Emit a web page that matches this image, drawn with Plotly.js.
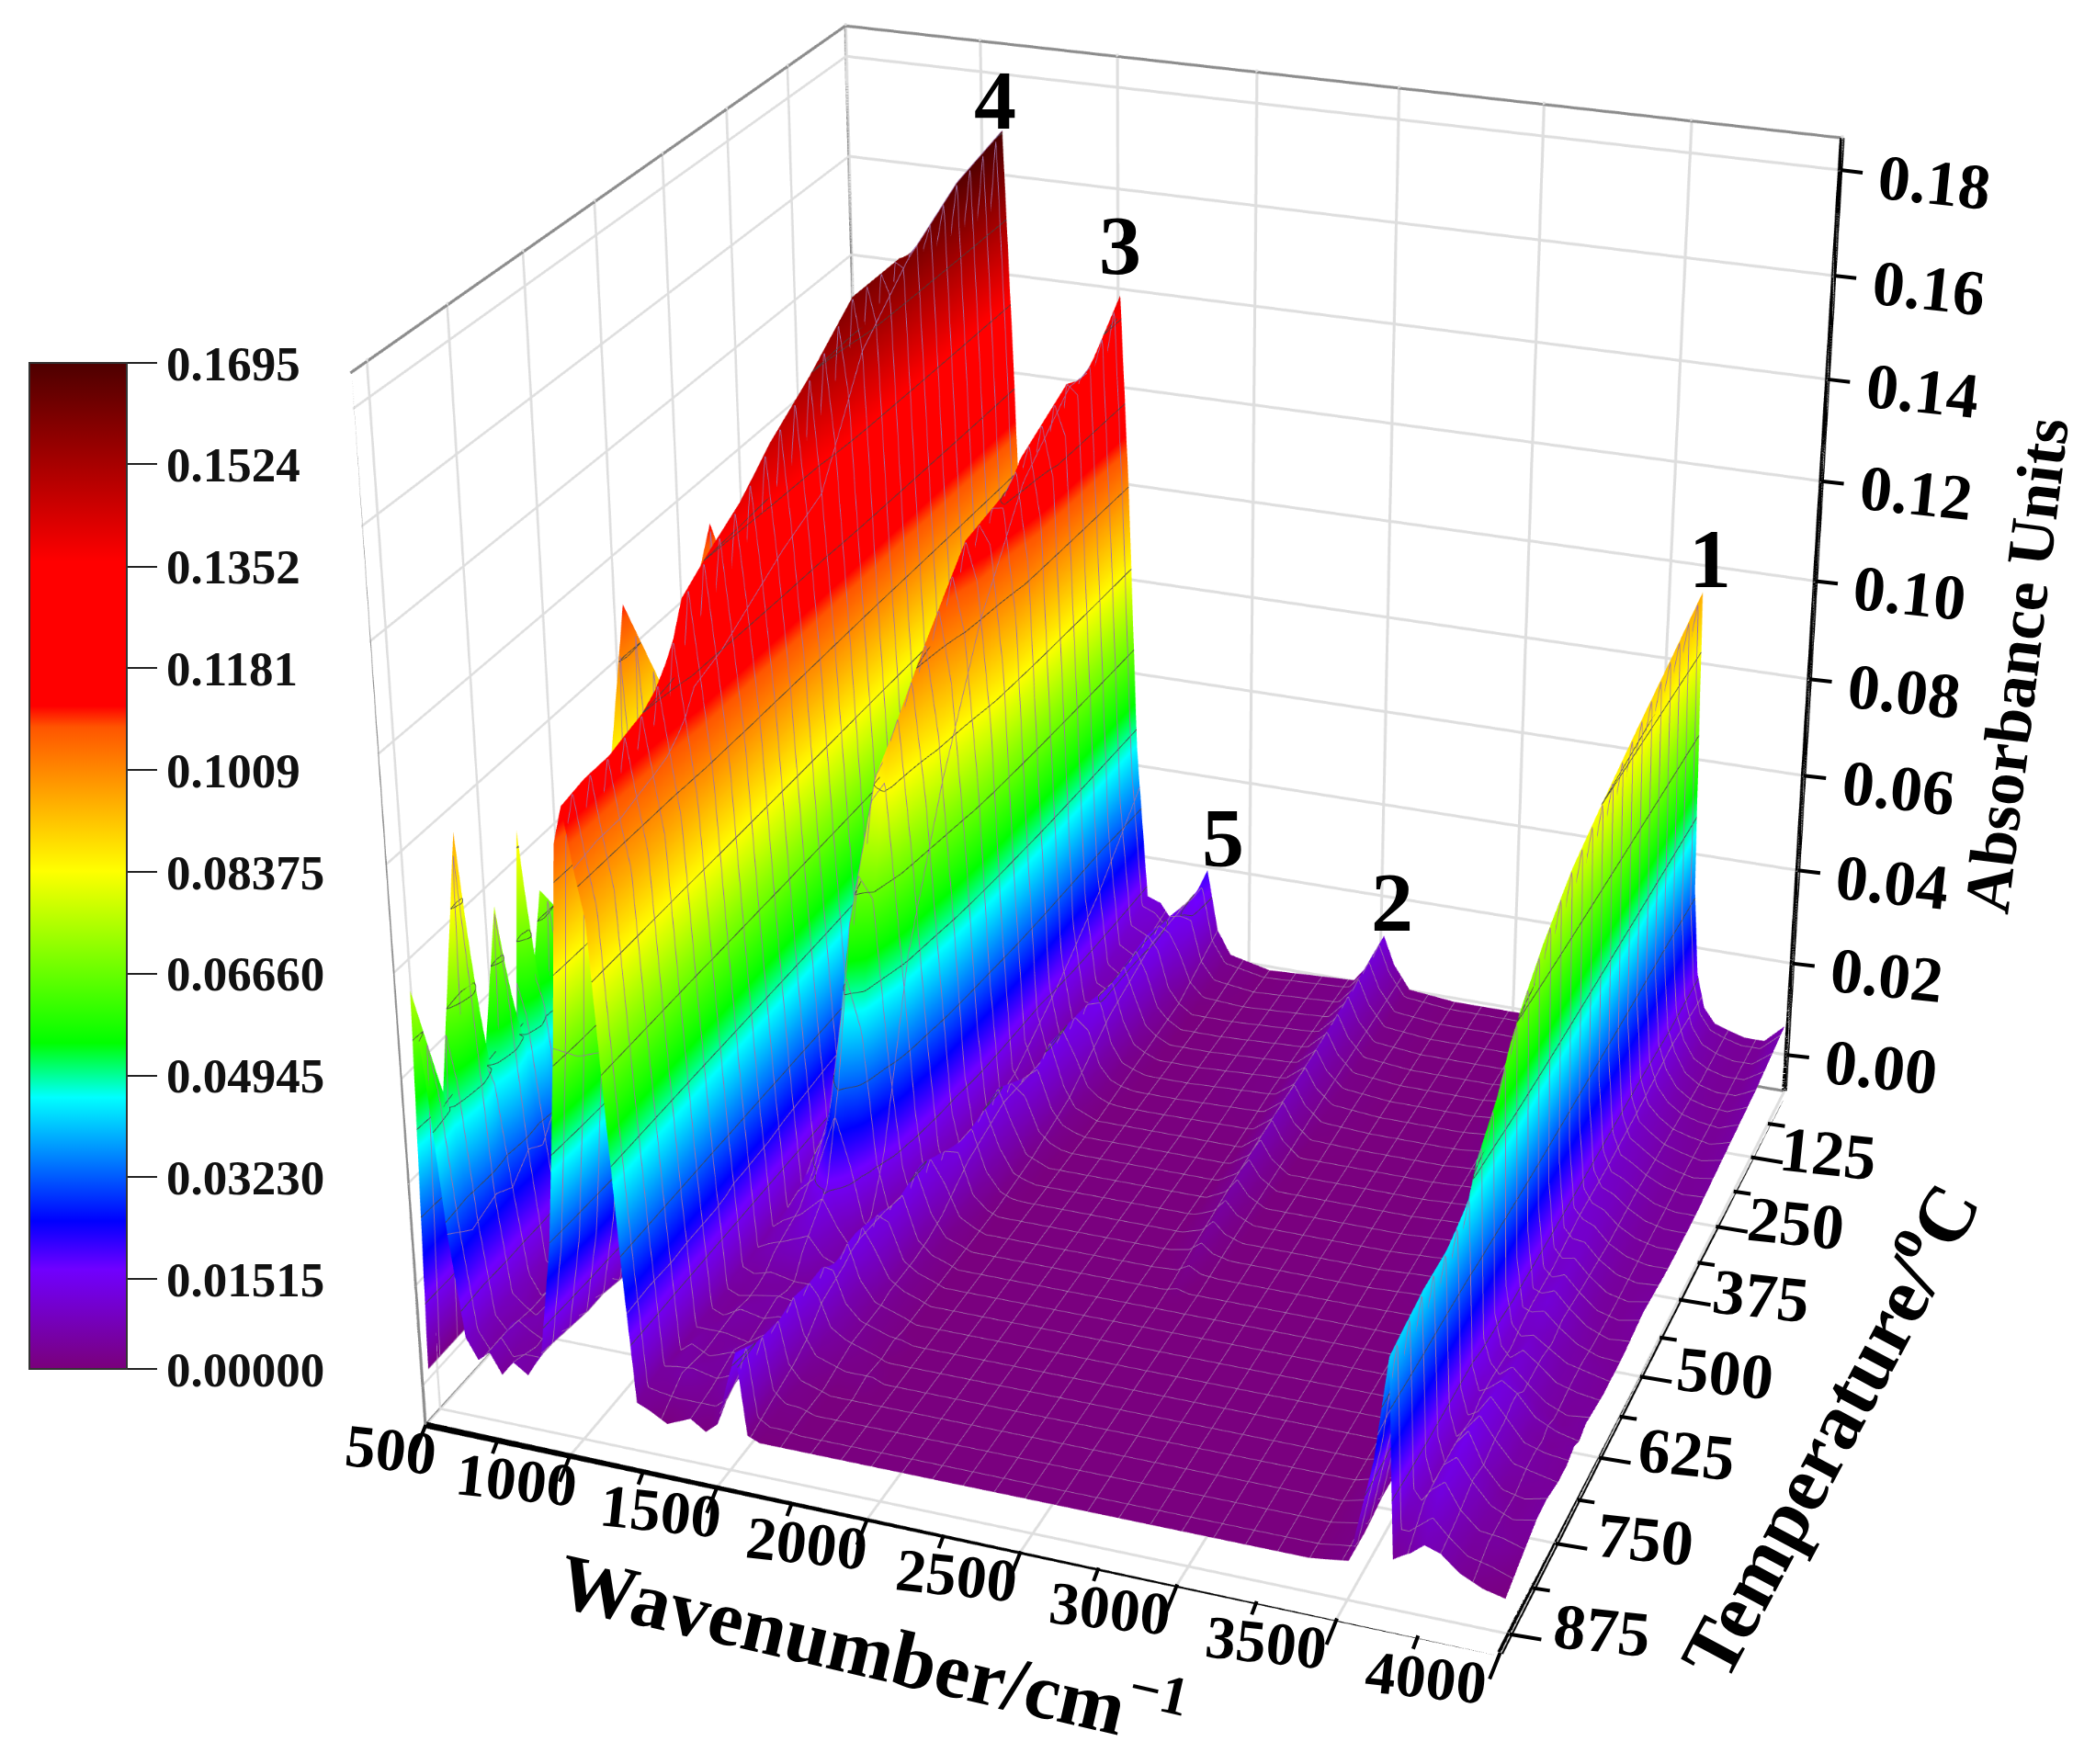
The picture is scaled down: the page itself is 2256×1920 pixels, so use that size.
<!DOCTYPE html>
<html>
<head>
<meta charset="utf-8">
<script src="https://cdn.plot.ly/plotly-3.0.1.min.js"></script>
<style>
html,body{margin:0;padding:0;background:#fff}
/* plot is bigger than the page so the 3d view gets a narrow field of view */
#page{position:relative;width:2256px;height:1920px;overflow:hidden}
#chart{position:absolute;left:-928px;top:-1518px;width:4460px;height:4460px}
</style>
</head>
<body>
<div id="page"><div id="chart"></div></div>
<script>
// wavenumber columns, cm-1
const wavenumbers = [500,530,560,600,640,680,720,760,800,850,
  900,950,1000,1040,1070,1100,1130,1160,1190,1220,
  1260,1320,1400,1450,1490,1530,1560,1590,1630,1680,
  1730,1780,1820,1860,1900,1950,
  2100,2420,2490,2530,2570,2630,2800,3100,
  3400,3520,3590,3630,3655,3680,3710,3750,3800,3860,3930,4000];
// temperature rows, deg C
const temperatures = [890,850,807,780,749,725,705,690,672,620,590,560,500,420,330,230,120,15];
// absorbance, in 0.001 AU, one row per temperature
const absorbanceMilli = [
  [2,76,60,30,10,6,8,4,7,5, 10,32,70,108,115,104,95,62,30,4, 3,1,3,1,3,12,18,2,1,1,1,1,1,1,1,1, 1,1,1,1,1,1,1,1, 1,2,22,42,4,5,6,8,7,4,2,1],
  [2,52,48,26,8,5,9,6,5,7, 9,28,64,106,116,105,95,62,30,5, 5,6,4,6,8,9,15,4,2,2,1,1,1,1,1,1, 1,1,1,1,1,1,1,1, 1,2,23,43,10,9,11,13,8,5,5,3],
  [2,97,70,28,9,7,5,8,6,6, 8,25,60,105,116,105,96,62,30,4, 6,4,6,5,7,11,14,6,3,2,1,1,1,1,1,1, 1,1,1,1,1,1,1,1, 1,3,24,44,13,8,12,14,10,6,4,5],
  [2,50,46,26,9,5,7,5,8,6, 8,24,56,106,117,106,96,62,30,5, 5,5,4,6,7,11,15,8,4,3,2,2,2,1,1,1, 1,1,1,1,1,1,1,1, 1,3,25,44,13,8,12,15,9,5,4,5],
  [3,77,62,30,8,6,6,5,6,7, 7,23,56,107,118,107,96,62,30,5, 4,6,5,6,6,10,14,12,6,4,3,2,1,1,1,1, 1,1,1,1,1,1,1,1, 1,3,26,44,14,9,11,14,10,6,5,4],
  [3,50,48,28,8,7,5,6,5,6, 7,22,56,108,120,108,96,62,30,5, 4,5,6,5,7,9,14,13,7,4,3,2,2,1,1,1, 1,1,1,1,1,1,1,1, 1,3,28,45,14,9,10,14,10,6,5,4],
  [3,87,66,32,9,5,6,5,5,6, 7,21,56,109,123,110,97,62,30,6, 5,5,5,6,6,8,12,14,7,4,3,2,1,1,1,1, 1,1,1,1,1,1,1,1, 1,4,30,46,15,10,11,13,11,6,4,5],
  [3,58,52,30,9,5,6,4,6,6, 7,20,56,110,126,112,97,63,31,6, 5,6,5,5,6,7,11,15,8,4,3,2,1,1,1,1, 1,1,1,1,1,1,1,1, 1,4,32,47,15,10,11,13,11,7,5,4],
  [3,72,56,32,9,6,5,6,5,6, 6,20,58,114,132,116,98,63,31,6, 7,8,9,6,6,6,9,15,10,5,3,2,1,1,1,1, 1,1,1,1,1,1,1,1, 1,5,38,52,16,12,10,12,9,6,4,5],
  [3,60,58,30,10,5,5,5,6,6, 6,20,60,118,136,118,99,64,31,7, 9,11,16,10,6,5,7,13,13,5,3,2,1,1,1,1, 1,1,1,1,1,1,1,1, 1,5,42,58,18,11,9,11,9,6,5,4],
  [3,62,60,32,9,5,6,4,5,6, 6,20,62,122,138,120,100,64,32,7, 12,16,34,22,8,5,6,11,15,6,3,2,1,1,1,1, 1,1,1,1,1,1,1,1, 1,6,48,64,20,12,10,10,8,6,5,4],
  [3,64,62,34,9,5,5,5,5,6, 6,20,64,122,140,122,100,65,32,8, 15,24,62,52,20,7,5,8,16,8,3,2,1,1,1,1, 1,1,1,2,1,1,1,1, 1,6,52,68,22,11,11,12,9,6,4,4],
  [3,111,72,36,10,5,5,5,5,6, 6,22,68,128,146,126,101,65,33,8, 22,45,85,92,60,22,6,5,12,14,5,2,1,1,1,1, 1,1,2,4,2,1,1,1, 2,7,58,74,25,12,10,11,8,5,4,5],
  [3,84,76,38,10,5,5,5,5,6, 6,24,72,132,152,130,102,66,33,9, 28,60,92,104,86,50,18,6,7,16,9,3,2,1,1,1, 1,1,3,6,3,1,1,1, 2,8,62,80,27,13,11,10,7,5,4,4],
  [3,112,74,38,10,5,5,5,5,6, 6,24,76,140,160,150,104,66,33,9, 32,70,100,116,108,80,38,9,5,9,16,7,3,2,1,1, 1,1,4,8,4,1,1,1, 2,9,66,84,29,14,10,9,7,5,4,4],
  [3,72,76,38,10,5,5,5,5,6, 6,26,80,140,160,160,110,67,34,10, 36,76,106,118,124,106,60,18,6,6,14,16,7,3,2,1, 1,2,5,9,5,2,1,1, 3,10,70,88,31,15,10,8,6,5,4,5],
  [3,76,72,38,10,5,5,5,5,6, 6,26,84,135,155,167,118,67,34,10, 40,80,108,112,130,128,80,30,9,7,9,17,14,6,3,1, 1,2,6,11,6,2,1,1, 3,11,76,92,32,16,11,7,5,4,4,6],
  [3,74,78,40,10,5,5,5,5,6, 6,28,86,130,150,170,125,70,35,12, 42,84,104,108,124,140,100,45,13,12,8,13,16,21,8,3, 1,2,7,13,7,2,1,1, 3,12,80,96,34,16,9,6,5,4,4,8]
];
const xTicks = [500,1000,1500,2000,2500,3000,3500,4000];
const xMinorTicks = [750,1250,1750,2250,2750,3250,3750];
const yTicks = [125,250,375,500,625,750,875];
const yMinorTicks = [62.5,187.5,312.5,437.5,562.5,687.5,812.5];
const zTicks = [0,0.02,0.04,0.06,0.08,0.10,0.12,0.14,0.16,0.18];
const zTickText = ['0.00','0.02','0.04','0.06','0.08','0.10','0.12','0.14','0.16','0.18'];
const barTicks = [0,0.01515,0.0323,0.04945,0.0666,0.08375,0.1009,0.1181,0.1352,0.1524,0.1695];
const barTickText = ['0.00000','0.01515','0.03230','0.04945','0.06660','0.08375','0.1009','0.1181','0.1352','0.1524','0.1695'];
const peakLabels = ['1','2','3','4','5'];
const peakX = [3655,2560,1530,1075,1920];
const peakZ = [0.096,0.013,0.143,0.169,0.021];
const xRange = [499,4000];
const yRange = [900,0];
const zRange = [-0.008,0.1865];
const zTop = 0.186;

const absorbance = absorbanceMilli.map(row => row.map(v => v / 1000));
const serif = 'Liberation Serif, Times New Roman, serif';
const [x0, x1] = xRange, [yFront, yBack] = yRange, [z0] = zRange;

const surface = {
    type: 'surface',
    x: wavenumbers,
    y: temperatures,
    z: absorbance,
    cmin: 0,
    cmax: 0.1695,
    colorscale: [
        [0, '#7a007a'], [0.099, '#7000ff'], [0.147, '#0000ff'], [0.27, '#00ffff'],
        [0.324, '#00ff00'], [0.495, '#ffff00'], [0.638, '#ff5500'], [0.659, '#ff0000'],
        [0.802, '#ff0000'], [0.898, '#a80000'], [1, '#4d0000']
    ],
    lighting: {ambient: 1, diffuse: 0, specular: 0, roughness: 1, fresnel: 0},
    hoverinfo: 'skip',
    contours: {
        x: {show: true, start: 500, end: 4000, size: 100, color: '#a070a8', width: 1.5},
        y: {show: true, start: 30, end: 880, size: 30, color: '#a070a8', width: 1.5},
        z: {show: true, start: 0.01515, end: 0.1695, size: 0.01715, color: '#444444', width: 5}
    },
    colorbar: {
        x: 960 / 4460, xanchor: 'left', xpad: 0,
        y: (2942 - 1490) / 4460, yanchor: 'bottom', ypad: 0,
        thickness: 106, thicknessmode: 'pixels',
        len: 1095, lenmode: 'pixels',
        tickmode: 'array', tickvals: barTicks, ticktext: barTickText,
        ticks: 'outside', ticklen: 32, tickwidth: 2, tickcolor: '#222',
        tickfont: {family: serif, size: 53, color: '#111', weight: 700},
        outlinecolor: '#333', outlinewidth: 2
    }
};

// box edges, gray ones behind, black ones carry the ticks
function edges(pairs, color, width) {
    const xs = [], ys = [], zs = [];
    pairs.forEach(p => {
        xs.push(p[0], p[3], null);
        ys.push(p[1], p[4], null);
        zs.push(p[2], p[5], null);
    });
    return {type: 'scatter3d', mode: 'lines', x: xs, y: ys, z: zs,
        line: {color: color, width: width}, hoverinfo: 'skip', showlegend: false};
}
const grayEdges = edges([
    [x0, yFront, z0, x0, yFront, zTop],
    [x0, yFront, zTop, x0, yBack, zTop],
    [x0, yBack, zTop, x1, yBack, zTop],
    [x0, yBack, z0, x0, yBack, zTop],
    [x0, yFront, z0, x0, yBack, z0],
    [x0, yBack, z0, x1, yBack, z0]
], '#8c8c8c', 4);
const blackEdges = edges([
    [x0, yFront, z0, x1, yFront, z0],
    [x1, yFront, z0, x1, yBack, z0]
], '#000', 9);
const zLine = edges([[x1, yBack, z0, x1, yBack, zTop]], '#000', 7);

function axisStyle(range, tickvals) {
    return {
        range: range, tickmode: 'array', tickvals: tickvals,
        showticklabels: false, ticks: '', title: {text: ''},
        showline: false, showgrid: true, gridcolor: '#dedede', gridwidth: 4,
        zeroline: false, showbackground: false, showspikes: false
    };
}

// tick marks and tick labels are annotations since plotly keeps the z axis on the left
function tickMark(x, y, z, ax, ay) {
    return {x: x, y: y, z: z, text: '', showarrow: true, arrowhead: 0, arrowwidth: 4, arrowcolor: '#000', ax: ax, ay: ay};
}
function label(x, y, z, text, size, anchor, xshift, yshift, angle) {
    return {x: x, y: y, z: z, text: text, showarrow: false, xanchor: anchor, yanchor: 'middle',
        xshift: xshift, yshift: yshift, textangle: angle,
        font: {family: serif, size: size, color: '#000', weight: 700}};
}
const annotations = [];
xTicks.forEach(v => {
    annotations.push(tickMark(v, yFront, z0, -12, 30));
    annotations.push(label(v, yFront, z0, String(v), 66, 'right', -9 + (4000 - v) / 3500 * 26, -26, 6));
});
xMinorTicks.forEach(v => annotations.push(tickMark(v, yFront, z0, -6, 16)));
yTicks.forEach(v => {
    annotations.push(tickMark(x1, v, z0, 36, 6));
    annotations.push(label(x1, v, z0, String(v), 70, 'left', 42 - (875 - v) / 750 * 16, 4, 6));
});
yMinorTicks.forEach(v => annotations.push(tickMark(x1, v, z0, 20, 3)));
zTicks.forEach((v, i) => {
    annotations.push(tickMark(x1, yBack, v, 26, 3));
    annotations.push(label(x1, yBack, v, zTickText[i], 70, 'left', 36, -13, 6));
});
peakLabels.forEach((t, i) => annotations.push(label(peakX[i], 15, peakZ[i], t, 92, 'center', 0, 38, 0)));
annotations.push(label(2250, yFront, z0, 'Wavenumber/cm<sup>\u22121</sup>', 86, 'center', -78, -120, 13));
annotations.push(label(x1, 450, z0, 'Temperature/<sup>o</sup>C', 86, 'center', 184, -90, -62));
annotations.push(label(x1, yBack, 0.09, 'Absorbance Units', 71, 'center', 222, -38, -83));

const layout = {
    width: 4460,
    height: 4460,
    margin: {l: 0, r: 0, t: 0, b: 0},
    paper_bgcolor: '#fff',
    showlegend: false,
    scene: {
        domain: {x: [0, 1], y: [0, 1]},
        aspectmode: 'manual',
        aspectratio: {x: 1, y: 1.009, z: 1.009},
        camera: {
            eye: {x: 1.399, y: -3.8, z: 1.951},
            center: {x: 0.057, y: -0.023, z: 0.134},
            up: {x: -0.1422, y: 0.3876, z: 0.9108},
            projection: {type: 'perspective'}
        },
        xaxis: axisStyle(xRange, xTicks),
        yaxis: axisStyle(yRange, yTicks),
        zaxis: axisStyle(zRange, zTicks),
        annotations: annotations
    }
};

Plotly.newPlot('chart', [surface, grayEdges, blackEdges, zLine], layout, {displayModeBar: false});
</script>
</body>
</html>
